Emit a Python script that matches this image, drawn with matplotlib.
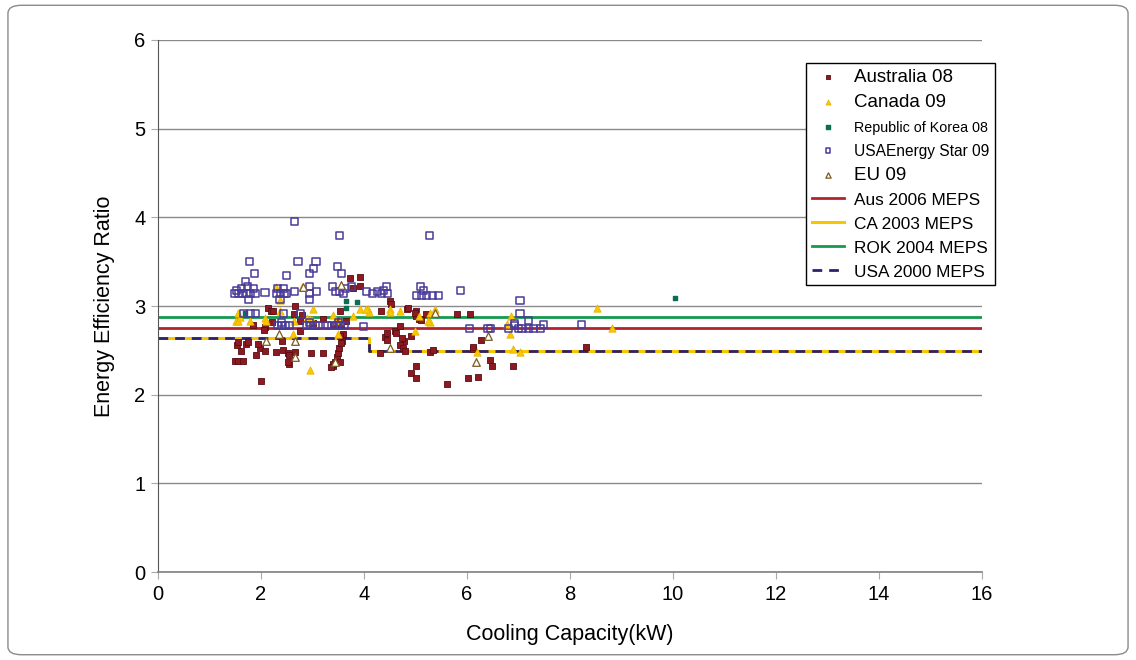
import matplotlib
matplotlib.use('Agg')
import matplotlib.pyplot as plt
from matplotlib.patches import FancyBboxPatch

plt.rcParams['font.family'] = ['Liberation Sans', 'DejaVu Sans']

# Australia 08 (dark red squares)
aus_x = [1.50, 1.55, 1.61, 1.53, 1.72, 1.98, 2.01, 2.08, 2.30, 2.43, 2.53, 2.55, 2.66, 2.98, 3.21,
         3.39, 3.44, 3.47, 3.50, 3.52, 3.53, 3.57, 3.60, 3.73, 3.92, 3.92, 3.79, 4.50, 4.52, 4.83,
         5.02, 4.41, 4.44, 4.60, 4.70, 4.78, 4.70, 5.02, 4.92, 5.02, 5.28, 5.62, 5.02, 5.21, 2.14,
         2.20, 2.66, 3.20, 1.85, 2.08, 2.76, 2.24, 2.21, 2.65, 2.79, 2.75, 2.06, 1.56, 1.75, 1.95,
         1.66, 2.54, 2.53, 3.53, 3.48, 3.56, 3.40, 3.02, 3.53, 3.56, 3.40, 3.37, 4.34, 4.86, 4.99,
         5.06, 5.10, 4.63, 4.73, 4.92, 4.76, 4.80, 5.35, 4.31, 5.81, 6.06, 6.28, 6.12, 6.45, 6.48,
         6.90, 6.03, 6.22, 8.31, 4.44, 6.11, 3.66, 2.40, 1.90]
aus_y = [2.38, 2.38, 2.49, 2.56, 2.57, 2.53, 2.15, 2.49, 2.48, 2.50, 2.47, 2.35, 2.48, 2.47, 2.47,
         2.32, 2.37, 2.43, 2.47, 2.53, 2.37, 2.60, 2.68, 3.32, 3.33, 3.23, 3.20, 3.06, 3.02, 2.97,
         2.94, 2.65, 2.69, 2.72, 2.78, 2.61, 2.56, 2.32, 2.24, 2.19, 2.48, 2.12, 2.89, 2.91, 2.98,
         2.94, 3.00, 2.85, 2.79, 2.76, 2.72, 2.94, 2.82, 2.91, 2.90, 2.83, 2.73, 2.59, 2.59, 2.57,
         2.38, 2.45, 2.37, 2.94, 2.83, 2.79, 2.79, 2.81, 2.66, 2.58, 2.35, 2.31, 2.94, 2.98, 2.92,
         2.85, 2.84, 2.70, 2.64, 2.66, 2.53, 2.49, 2.50, 2.47, 2.91, 2.91, 2.62, 2.52, 2.39, 2.32,
         2.32, 2.19, 2.20, 2.54, 2.62, 2.54, 2.83, 2.60, 2.45]

# Canada 09 (yellow triangles)
can_x = [1.56, 1.52, 1.56, 1.79, 2.08, 2.10, 2.30, 2.37, 2.37, 2.63, 2.79, 2.95, 3.02, 2.95, 3.40,
         3.55, 3.53, 3.79, 3.92, 4.08, 4.10, 4.50, 4.70, 5.06, 5.28, 5.38, 8.52, 8.81, 6.90, 6.77,
         6.83, 6.86, 6.19, 4.99, 5.28, 4.51, 2.89, 2.99, 3.44, 4.05, 3.50, 2.65, 7.03, 5.25, 1.60]
can_y = [2.92, 2.83, 2.83, 2.83, 2.87, 2.83, 3.22, 3.07, 2.94, 2.68, 3.22, 2.85, 2.97, 2.28, 2.90,
         3.24, 2.83, 2.89, 2.97, 2.97, 2.93, 2.97, 2.94, 2.89, 2.82, 2.97, 2.98, 2.75, 2.51, 2.80,
         2.68, 2.89, 2.48, 2.72, 2.92, 2.93, 2.87, 2.84, 2.83, 2.97, 2.68, 2.83, 2.48, 2.83, 2.88]

# Republic of Korea 08
rok_x = [3.66, 3.87, 3.66, 10.04, 1.69]
rok_y = [3.06, 3.05, 2.98, 3.09, 2.92]

# USA Energy Star 09 (open squares)
usa_x = [2.66, 3.53, 5.28, 1.77, 2.72, 3.07, 3.48, 1.88, 2.49, 3.02, 2.95, 3.57, 1.70,
         1.48, 1.56, 1.64, 1.72, 1.80, 1.90, 1.62, 1.74, 1.86, 1.76, 1.52,
         2.08, 2.31, 2.38, 2.45, 2.50, 2.33, 2.44, 2.37, 2.66, 2.95, 2.95, 3.08, 2.95, 3.39, 3.44,
         3.53, 3.65, 3.76, 3.60, 4.05, 4.17, 4.26, 4.35, 4.45, 4.44, 4.38,
         5.09, 5.02, 5.12, 5.22, 5.33, 5.44, 5.15,
         1.66, 1.79, 1.90, 2.43, 2.76,
         2.33, 2.40, 2.48, 2.56, 2.40, 2.89, 2.97, 3.05, 3.11, 2.95, 3.30, 3.38, 3.46, 3.55, 3.63,
         3.50, 3.99, 5.88, 7.03, 7.03, 7.20, 6.92, 6.05, 6.45, 6.80, 7.00, 7.20, 7.30, 7.42, 7.48,
         8.22, 6.41, 6.93, 7.07]
usa_y = [3.95, 3.80, 3.80, 3.50, 3.50, 3.50, 3.45, 3.37, 3.34, 3.42, 3.37, 3.37, 3.28,
         3.14, 3.14, 3.14, 3.14, 3.14, 3.14, 3.20, 3.22, 3.20, 3.07, 3.17,
         3.15, 3.14, 3.14, 3.14, 3.14, 3.20, 3.20, 3.07, 3.16, 3.22, 3.14, 3.16, 3.07, 3.22, 3.16,
         3.16, 3.20, 3.22, 3.14, 3.16, 3.14, 3.16, 3.14, 3.14, 3.22, 3.18,
         3.22, 3.12, 3.12, 3.12, 3.12, 3.12, 3.18,
         2.92, 2.92, 2.92, 2.92, 2.91,
         2.78, 2.78, 2.78, 2.78, 2.81, 2.78, 2.78, 2.78, 2.78, 2.81, 2.78, 2.78, 2.78, 2.78, 2.78,
         2.81, 2.77, 3.18, 3.06, 2.92, 2.84, 2.78, 2.75, 2.75, 2.75, 2.75, 2.75, 2.75, 2.75, 2.79,
         2.79, 2.75, 2.80, 2.75]

# EU 09 (open triangles)
eu_x = [2.82, 3.55, 2.66, 2.67, 2.09, 6.41, 6.17, 5.38, 3.44, 4.50, 2.36]
eu_y = [3.22, 3.24, 2.61, 2.43, 2.60, 2.66, 2.37, 2.92, 2.37, 2.53, 2.68]

# MEPS lines
aus_meps_x = [0, 16]
aus_meps_y = [2.75, 2.75]
rok_meps_x = [0, 16]
rok_meps_y = [2.88, 2.88]
us_meps_x = [0, 4.1, 4.1, 16]
us_meps_y = [2.64, 2.64, 2.49, 2.49]
ca_meps_x = [0, 4.1, 4.1, 16]
ca_meps_y = [2.64, 2.64, 2.49, 2.49]

fig = plt.figure(figsize=(11.36, 6.6), dpi=100)
ax = fig.add_axes([0.139, 0.1333, 0.7254, 0.8061])

# grille horizontale
ax.set_axisbelow(True)
ax.grid(axis='y', color='#8a8a8a', linewidth=1)
ax.grid(axis='x', visible=False)

l_aus, = ax.plot(aus_meps_x, aus_meps_y, color='#b3222e', lw=2, zorder=2)
l_ca, = ax.plot(ca_meps_x, ca_meps_y, color='#f7c600', lw=2.2, zorder=2)
l_rok, = ax.plot(rok_meps_x, rok_meps_y, color='#16994f', lw=2, zorder=2)
l_us, = ax.plot(us_meps_x, us_meps_y, color='#2b2170', lw=2, ls=(0, (3.5, 2.5)), zorder=2.1)

s_aus = ax.scatter(aus_x, aus_y, marker='s', s=15, c='#8c1a22', edgecolors='#5a0c12',
                   linewidths=0.6, zorder=3)
s_can = ax.scatter(can_x, can_y, marker='^', s=28, c='#f8c800', edgecolors='#e8b000',
                   linewidths=0.5, zorder=3)
s_rok = ax.scatter(rok_x, rok_y, marker='s', s=10, c='#0a6e55', edgecolors='#0a6e55', zorder=3)
s_usa = ax.scatter(usa_x, usa_y, marker='s', s=26, facecolors='none', edgecolors='#4a3a98',
                   linewidths=1.1, zorder=3)
s_eu = ax.scatter(eu_x, eu_y, marker='^', s=30, facecolors='white', edgecolors='#7a5a20',
                  linewidths=0.9, zorder=3.2)

ax.set_xlim(0, 16)
ax.set_ylim(0, 6)
ax.set_xticks(range(0, 17, 2))
ax.set_yticks(range(0, 7))
ax.tick_params(labelsize=14.5, length=5, color='#aaaaaa', pad=4)
for side in ['top', 'right']:
    ax.spines[side].set_visible(False)
ax.spines['left'].set_color('#555555')
ax.spines['bottom'].set_color('#808080')
ax.spines['bottom'].set_linewidth(1.2)

ax.set_xlabel('Cooling Capacity(kW)', fontsize=15.5, labelpad=15)
ax.set_ylabel('Energy Efficiency Ratio', fontsize=15.5, labelpad=14)

handles = [s_aus, s_can, s_rok, s_usa, s_eu, l_aus, l_ca, l_rok, l_us]
labels = ['Australia 08', 'Canada 09', 'Republic of Korea 08', 'USAEnergy Star 09', 'EU 09',
          'Aus 2006 MEPS', 'CA 2003 MEPS', 'ROK 2004 MEPS', 'USA 2000 MEPS']
leg = ax.legend(handles, labels, loc='upper right', bbox_to_anchor=(0.876, 0.9045),
                bbox_transform=fig.transFigure, fontsize=13.5, fancybox=False,
                edgecolor='black', framealpha=1, labelspacing=0.42, handlelength=1.7,
                handletextpad=0.55, borderpad=0.3, markerscale=0.7, borderaxespad=0)
leg.get_frame().set_linewidth(1)
for t in leg.get_texts():
    txt = t.get_text()
    if txt == 'Republic of Korea 08':
        t.set_fontsize(10.3)
    elif txt == 'USAEnergy Star 09':
        t.set_fontsize(11.2)
    elif 'MEPS' in txt:
        t.set_fontsize(12.4)

# cadre arrondi autour de la figure
frame = FancyBboxPatch((0.007, 0.008), 0.986, 0.984, boxstyle='round,pad=0,rounding_size=0.012',
                       transform=fig.transFigure, facecolor='none', edgecolor='#8a8a8a', lw=1)
fig.patches.append(frame)

fig.savefig('out.png', dpi=100)
